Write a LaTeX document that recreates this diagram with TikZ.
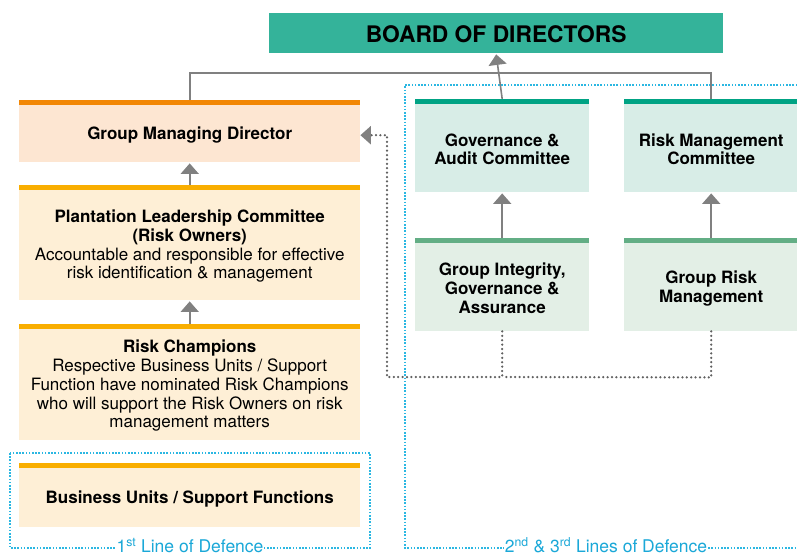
\documentclass[tikz,border=0pt]{standalone}
\usepackage{fontspec}
\setmainfont{TeX Gyre Heros}
\usetikzlibrary{arrows.meta}
\definecolor{boardc}{HTML}{34B39A}
\definecolor{orbar}{HTML}{F28705}
\definecolor{orfill}{HTML}{FDE6D2}
\definecolor{ambar}{HTML}{F9AE00}
\definecolor{amfill}{HTML}{FEEFD6}
\definecolor{tlbar}{HTML}{00A384}
\definecolor{tlfill}{HTML}{D8EDE7}
\definecolor{grbar}{HTML}{63AE85}
\definecolor{grfill}{HTML}{E3EFE6}
\definecolor{conn}{HTML}{808080}
\definecolor{dotgray}{HTML}{606060}
\definecolor{lineblue}{HTML}{2BB7E2}
\definecolor{labblue}{HTML}{1AA8D8}
\newcommand{\topgap}{\rule{0pt}{20pt}}
\tikzset{
  box/.style 2 args={inner sep=0pt, anchor=north west, align=center, fill=#2,
    font=\fontsize{17}{18.7}\selectfont,
    path picture={\fill[#1] (path picture bounding box.north west) rectangle ([yshift=-4.5pt]path picture bounding box.north east);}},
  conline/.style={draw=conn, line width=1.6pt},
  arr/.style={conline, -{Triangle[width=18pt,length=10.5pt]}},
  gdot/.style={draw=dotgray, line width=2.5pt, line cap=round, dash pattern=on 0pt off 4.4pt},
  bdot/.style={draw=lineblue, line width=1.6pt, dash pattern=on 1.6pt off 1.6pt},
  lab/.style={fill=white, inner sep=0.5pt, anchor=base, text=labblue, font=\fontsize{17.5}{20}\selectfont},
}
\begin{document}
\begin{tikzpicture}[x=1pt, y=-1pt]
\useasboundingbox (0,0) rectangle (797,555);
\begin{scope}
\clip (0,0) rectangle (797,555);
% dotted group frames
\draw[bdot] (10,453) rectangle (370,548);
\draw[bdot] (810,85) -- (405,85) -- (405,548) -- (810,548);

% nodes
\node[inner sep=0pt, anchor=north west, fill=boardc, minimum width=454pt, minimum height=40pt,
  font=\fontsize{22.8}{26}\selectfont\bfseries] (board) at (269,13) {\rule{0pt}{18pt}BOARD OF DIRECTORS};

\node[box={orbar}{orfill}, minimum width=341pt, minimum height=62pt] (gmd) at (19,100)
  {\topgap\bfseries Group Managing Director};
\node[box={ambar}{amfill}, minimum width=341pt, minimum height=115pt] (plc) at (19,185)
  {\topgap\bfseries Plantation Leadership Committee\\ \bfseries (Risk Owners)\\
   Accountable and responsible for effective\\ risk identification \& management};
\node[box={ambar}{amfill}, minimum width=341pt, minimum height=116pt] (rc) at (19,324)
  {\topgap\bfseries Risk Champions\\ Respective Business Units / Support\\
   Function have nominated Risk Champions\\ who will support the Risk Owners on risk\\
   management matters};
\node[box={ambar}{amfill}, minimum width=341pt, minimum height=64pt] (bu) at (19,463)
  {\topgap\bfseries Business Units / Support Functions};

\node[box={tlbar}{tlfill}, minimum width=174pt, minimum height=93pt] (gac) at (415,99)
  {\topgap\bfseries Governance \&\\ \bfseries Audit Committee};
\node[box={tlbar}{tlfill}, minimum width=174pt, minimum height=93pt] (rmc) at (624,99)
  {\topgap\bfseries Risk Management\\ \bfseries Committee};
\node[box={grbar}{grfill}, minimum width=174pt, minimum height=93pt] (giga) at (415,238)
  {\topgap\bfseries Group Integrity,\\ \bfseries Governance \&\\ \bfseries Assurance};
\node[box={grbar}{grfill}, minimum width=174pt, minimum height=93pt] (grm) at (624,238)
  {\topgap\bfseries Group Risk\\ \bfseries Management};

% solid connectors
\draw[arr] (gac.north) -- ([yshift=-1pt]board.south);
\draw[conline] (gmd.north) -- ++(0,-27) -| (rmc.north);
\draw[arr] (plc.north) -- ([yshift=-1pt]gmd.south);
\draw[arr] (rc.north) -- ([yshift=-1pt]plc.south);
\draw[arr] (giga.north) -- ([yshift=-1pt]gac.south);
\draw[arr] (grm.north) -- ([yshift=-1pt]rmc.south);

% dotted connectors
\coordinate (j) at (387,377);
\draw[gdot] (grm.south) -- ++(0,46) -- (giga.south |- j);
\draw[gdot, -{Triangle[width=18pt,length=10.5pt,color=conn]}] (giga.south) |- (j) |- ([yshift=-4pt]gmd.east);
\end{scope}

% labels
\node[lab] (l1) at (190,552.5) {1\textsuperscript{st} Line of Defence};
\node[lab] (l2) at (606,552.5) {2\textsuperscript{nd} \& 3\textsuperscript{rd} Lines of Defence};
\end{tikzpicture}
\end{document}
